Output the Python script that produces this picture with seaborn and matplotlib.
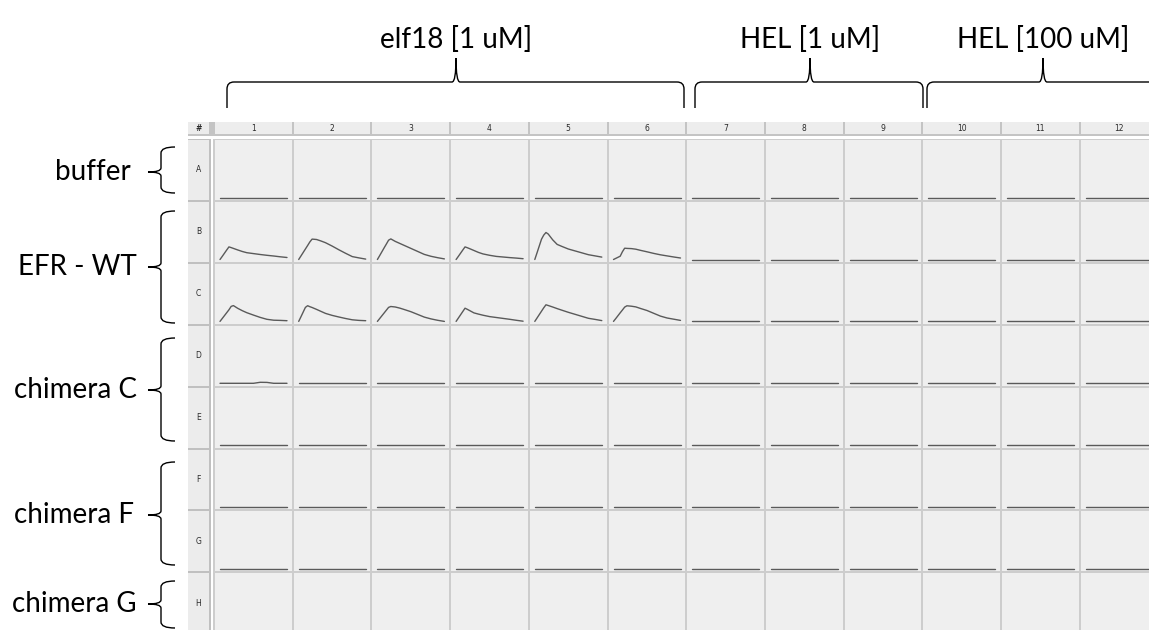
import numpy as np
import pandas as pd
import matplotlib
matplotlib.use("Agg")
import matplotlib.pyplot as plt
import seaborn as sns
from matplotlib.path import Path
from matplotlib.patches import PathPatch, Rectangle

sns.set_theme(style="white")
plt.rcParams["font.family"] = ["Lato", "DejaVu Sans"]

# ---------------- data ----------------
row_labels = list("ABCDEFGH")
col_labels = [str(i) for i in range(1, 13)]
time_min = [0, 1, 2, 3, 4, 5, 6, 8, 10, 12, 15, 18, 21, 24, 27, 30]

B1 = [0, 3.1, 6.3, 9.5, 12.6, 11.9, 11.1, 9.5, 8.0, 6.8, 5.9, 5.0, 4.2, 3.5, 2.7, 2.0]
B2 = [0, 3.5, 7.0, 10.5, 14.0, 17.6, 20.4, 20.0, 18.5, 16.8, 13.4, 9.7, 6.2, 2.9, 1.6, 0.4]
B3 = [0, 3.8, 7.7, 11.6, 15.4, 19.3, 20.6, 18.1, 16.1, 14.1, 11.1, 8.1, 5.1, 3.2, 1.8, 0.6]
B4 = [0, 3.1, 6.3, 9.5, 12.6, 11.8, 10.9, 9.0, 7.1, 5.6, 4.2, 3.1, 2.5, 1.9, 1.4, 0.8]
B5 = [0, 6.7, 13.5, 20.3, 24.4, 27.0, 25.5, 19.7, 15.1, 13.2, 10.5, 8.6, 6.7, 4.8, 3.6, 2.4]
B6 = [0, 1.1, 2.2, 3.3, 7.8, 11.3, 11.1, 10.9, 10.3, 9.2, 7.7, 6.1, 4.7, 3.6, 2.5, 1.5]
C1 = [0, 2.9, 5.8, 8.7, 11.6, 15.0, 15.8, 13.0, 10.7, 8.7, 6.3, 4.0, 2.1, 1.2, 1.0, 0.7]
C2 = [0, 4.6, 9.3, 14.0, 15.7, 14.7, 13.9, 12.0, 10.0, 8.0, 6.0, 4.4, 2.9, 1.6, 1.0, 0.7]
C3 = [0, 2.8, 5.6, 8.4, 11.2, 14.0, 14.9, 14.4, 13.3, 11.9, 9.7, 7.0, 4.3, 2.5, 1.1, 0.0]
C4 = [0, 3.3, 6.6, 9.9, 13.2, 12.1, 10.9, 8.5, 7.3, 6.2, 4.8, 3.9, 3.0, 2.1, 1.1, 0.2]
C5 = [0, 3.4, 6.8, 10.2, 13.6, 16.6, 15.9, 14.4, 12.8, 11.3, 9.1, 7.1, 5.1, 3.1, 2.0, 0.8]
C6 = [0, 2.8, 5.7, 8.6, 11.4, 14.3, 15.6, 15.2, 14.5, 13.0, 10.9, 8.1, 5.3, 3.4, 2.2, 1.0]
D1 = [0, 0, 0, 0, 0, 0, 0, 0, 0, 0, 0, 1.0, 0.9, 0, 0, 0]
baseline = [0] * len(time_min)

responding_wells = {"B1": B1, "B2": B2, "B3": B3, "B4": B4, "B5": B5, "B6": B6,
                    "C1": C1, "C2": C2, "C3": C3, "C4": C4, "C5": C5, "C6": C6,
                    "D1": D1}

group_labels = ["buffer", "EFR - WT", "chimera C", "chimera F", "chimera G"]
treatment_labels = ["elf18 [1 uM]", "HEL [1 uM]", "HEL [100 uM]"]

records = []
for r in row_labels:
    for c in col_labels:
        vals = responding_wells.get(r + c, baseline)
        for t, v in zip(time_min, vals):
            records.append((r, c, t, v))
df = pd.DataFrame(records, columns=["row", "col", "time", "signal"])

# ---------------- layout (pixels) ----------------
W, H = 1149, 630
fig = plt.figure(figsize=(W / 100, H / 100), dpi=100)
fig.patch.set_facecolor("white")

COL_X0, COL_W = 213.0, 78.7
ROW_Y0, ROW_H = 140.0, 61.9
HDR_Y0, HDR_Y1 = 122.0, 135.5
RH_X0, RH_X1 = 188.0, 209.0
PX_PER_MIN = 67.0 / 30.0


def fax(x, y, w, h):
    return [x / W, 1 - (y + h) / H, w / W, h / H]


bg = fig.add_axes([0, 0, 1, 1])
bg.set_xlim(0, W)
bg.set_ylim(H, 0)
bg.axis("off")

# separators background behind wells
bg.add_patch(Rectangle((COL_X0, ROW_Y0 - 1), W - COL_X0, H - ROW_Y0 + 1,
                       facecolor="#cdcdcd", edgecolor="none"))
# row header column
bg.add_patch(Rectangle((RH_X0, ROW_Y0 - 1), RH_X1 - RH_X0 + 1.5, H - ROW_Y0 + 1,
                       facecolor="#c0c0c0", edgecolor="none"))
for i, r in enumerate(row_labels):
    y = ROW_Y0 + i * ROW_H
    bg.add_patch(Rectangle((RH_X0, y), RH_X1 - RH_X0, ROW_H - 2,
                           facecolor="#ececec", edgecolor="none"))
    bg.text((RH_X0 + RH_X1) / 2, y + ROW_H / 2 - 1, r, ha="center", va="center",
            fontsize=5.5, color="#2a2a2a", family="DejaVu Sans")
# header row
bg.add_patch(Rectangle((RH_X0, HDR_Y0), W - RH_X0, HDR_Y1 - HDR_Y0,
                       facecolor="#c4c4c4", edgecolor="none"))
bg.add_patch(Rectangle((RH_X0, HDR_Y0), RH_X1 - RH_X0, HDR_Y1 - HDR_Y0 - 1.5,
                       facecolor="#ececec", edgecolor="none"))
bg.text((RH_X0 + RH_X1) / 2, (HDR_Y0 + HDR_Y1) / 2 - 0.5, "#", ha="center",
        va="center", fontsize=5.5, color="#2a2a2a", family="DejaVu Sans",
        fontweight="bold")
for j, c in enumerate(col_labels):
    x = COL_X0 + j * COL_W + 2
    bg.add_patch(Rectangle((x, HDR_Y0), COL_W - 2, HDR_Y1 - HDR_Y0 - 1.5,
                           facecolor="#ededed", edgecolor="none"))
    bg.text(x + (COL_W - 2) / 2, (HDR_Y0 + HDR_Y1) / 2 - 0.5, c, ha="center",
            va="center", fontsize=5.5, color="#2a2a2a", family="DejaVu Sans")

# ---------------- wells ----------------
cell_w = COL_W - 2
cell_h = ROW_H - 2
for i, r in enumerate(row_labels):
    for j, c in enumerate(col_labels):
        x = COL_X0 + j * COL_W + 2
        y = ROW_Y0 + i * ROW_H
        ax = fig.add_axes(fax(x, y, cell_w, cell_h))
        ax.set_facecolor("#efefef")
        sub = df[(df["row"] == r) & (df["col"] == c)]
        sns.lineplot(data=sub, x="time", y="signal", ax=ax, color="#5a5a5a",
                     linewidth=1.0, legend=False)
        ax.set_xlim(-5 / PX_PER_MIN, (cell_w - 5) / PX_PER_MIN)
        ax.set_ylim(-2.3, cell_h - 2.3)
        ax.set_xticks([])
        ax.set_yticks([])
        ax.set_xlabel("")
        ax.set_ylabel("")
        for s in ax.spines.values():
            s.set_visible(False)

# ---------------- braces and labels ----------------
M, L, C3 = Path.MOVETO, Path.LINETO, Path.CURVE3


def vbrace(x_end, y_top, y_bot, y_tip, x_spine, x_tip, r=6, rt=4):
    verts = [(x_end, y_top), (x_spine, y_top), (x_spine, y_top + r),
             (x_spine, y_tip - rt), (x_spine, y_tip), (x_tip, y_tip),
             (x_spine, y_tip), (x_spine, y_tip + rt),
             (x_spine, y_bot - r), (x_spine, y_bot), (x_end, y_bot)]
    codes = [M, C3, C3, L, C3, C3, C3, C3, L, C3, C3]
    bg.add_patch(PathPatch(Path(verts, codes), facecolor="none",
                           edgecolor="black", lw=1.0))


def hbrace(x_l, x_r, x_tip, y_end, y_spine, y_tip, r=7, rt=4):
    verts = [(x_l, y_end), (x_l, y_spine + r), (x_l, y_spine), (x_l + r, y_spine),
             (x_tip - rt, y_spine), (x_tip, y_spine), (x_tip, y_tip),
             (x_tip, y_spine), (x_tip + rt, y_spine),
             (x_r - r, y_spine), (x_r, y_spine), (x_r, y_spine + r), (x_r, y_end)]
    codes = [M, L, C3, C3, L, C3, C3, C3, C3, L, C3, C3, L]
    bg.add_patch(PathPatch(Path(verts, codes), facecolor="none",
                           edgecolor="black", lw=1.0))


# left group braces: (top, bottom, tip, label right edge)
left_braces = [(147, 193, 172, 131), (211, 323, 267, 137), (338, 441, 390, 137),
               (462, 565, 515, 134), (581, 628, 604, 137)]
for (yt, yb, ytip, xr), lab in zip(left_braces, group_labels):
    vbrace(175, yt, yb, ytip, 161, 148)
    bg.text(xr, ytip, lab, ha="right", va="center", fontsize=20, color="black")

top_braces = [(227, 684, 456), (695, 923, 810), (927, 1159, 1043)]
for (xl, xr, xt), lab in zip(top_braces, treatment_labels):
    hbrace(xl, xr, xt, 108, 82, 58)
    bg.text(xt, 40, lab, ha="center", va="center", fontsize=20, color="black")

fig.savefig("out.png", dpi=100)
